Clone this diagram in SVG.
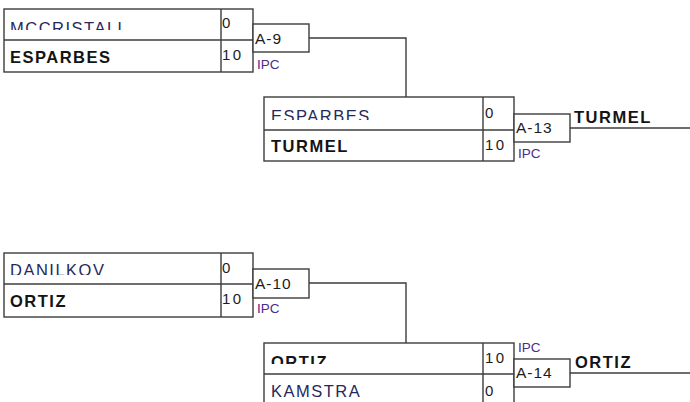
<svg xmlns="http://www.w3.org/2000/svg" width="690" height="402" viewBox="0 0 690 402">
<style>
.box{fill:#fff;stroke:#3c3c3c;stroke-width:1.4}
.ln{fill:none;stroke:#3c3c3c;stroke-width:1.4}
.nm{font-family:"Liberation Sans",Arial,sans-serif;font-size:16.5px;letter-spacing:1.5px;fill:#26285a}
.win{font-family:"Liberation Sans",Arial,sans-serif;font-size:16.5px;font-weight:bold;letter-spacing:1.5px;fill:#141414}
.sc{font-family:"Liberation Sans",Arial,sans-serif;font-size:15px;letter-spacing:2.5px;fill:#1c1c1c}
.mt{font-family:"Liberation Sans",Arial,sans-serif;font-size:15.5px;letter-spacing:1px;fill:#1c1c1c}
.ipc{font-family:"Liberation Sans",Arial,sans-serif;font-size:13.5px;fill:#4a2d8c}
</style>
<defs>
<clipPath id="c1"><rect x="0" y="0" width="260" height="30"/></clipPath>
<clipPath id="c2"><rect x="260" y="90" width="230" height="30"/></clipPath>
<clipPath id="c3"><rect x="0" y="250" width="260" height="25"/></clipPath>
<clipPath id="c4"><rect x="260" y="340" width="230" height="24"/></clipPath>
</defs>
<g id="connectors">
<polyline class="ln" points="309,38 406,38 406,97"/>
<polyline class="ln" points="309,283 406,283 406,343"/>
<line class="ln" x1="570" y1="128" x2="690" y2="128"/>
<line class="ln" x1="570" y1="373" x2="690" y2="373"/>
</g>
<g id="match-a9">
<rect class="box" x="4" y="9" width="249" height="63"/>
<line class="ln" x1="4" y1="40" x2="253" y2="40"/>
<line class="ln" x1="221" y1="9" x2="221" y2="72"/>
<text class="nm" x="10" y="34" clip-path="url(#c1)">MCCRISTALL</text>
<text class="win" x="10" y="62.5">ESPARBES</text>
<text class="sc" x="222" y="28">0</text>
<text class="sc" x="222" y="60">10</text>
<rect class="box" x="253" y="24" width="56" height="28"/>
<text class="mt" x="255" y="44">A-9</text>
<text class="ipc" x="257" y="69">IPC</text>
</g>
<g id="match-a13">
<rect class="box" x="264" y="97" width="250" height="64"/>
<line class="ln" x1="264" y1="130" x2="514" y2="130"/>
<line class="ln" x1="483" y1="97" x2="483" y2="161"/>
<text class="nm" x="271" y="122" clip-path="url(#c2)">ESPARBES</text>
<text class="win" x="271" y="151.5">TURMEL</text>
<text class="sc" x="485" y="118">0</text>
<text class="sc" x="485" y="150">10</text>
<rect class="box" x="514" y="114" width="56" height="28"/>
<text class="mt" x="516" y="132.5">A-13</text>
<text class="ipc" x="518" y="158">IPC</text>
<text class="win" x="574" y="123">TURMEL</text>
</g>
<g id="match-a10">
<rect class="box" x="4" y="253" width="249" height="64"/>
<line class="ln" x1="4" y1="284" x2="253" y2="284"/>
<line class="ln" x1="221" y1="253" x2="221" y2="317"/>
<text class="nm" x="10" y="276" clip-path="url(#c3)">DANILKOV</text>
<text class="win" x="10" y="307">ORTIZ</text>
<text class="sc" x="222" y="273">0</text>
<text class="sc" x="222" y="304">10</text>
<rect class="box" x="253" y="269" width="56" height="29"/>
<text class="mt" x="255" y="289">A-10</text>
<text class="ipc" x="257" y="313">IPC</text>
</g>
<g id="match-a14">
<rect class="box" x="264" y="343" width="250" height="70"/>
<line class="ln" x1="264" y1="374" x2="514" y2="374"/>
<line class="ln" x1="483" y1="343" x2="483" y2="413"/>
<text class="win" x="271" y="367.5" clip-path="url(#c4)">ORTIZ</text>
<text class="nm" x="271" y="397">KAMSTRA</text>
<text class="sc" x="485" y="363">10</text>
<text class="sc" x="485" y="396">0</text>
<rect class="box" x="514" y="359" width="56" height="28"/>
<text class="mt" x="516" y="378">A-14</text>
<text class="ipc" x="518" y="352">IPC</text>
<text class="win" x="575" y="367.5">ORTIZ</text>
</g>
</svg>
